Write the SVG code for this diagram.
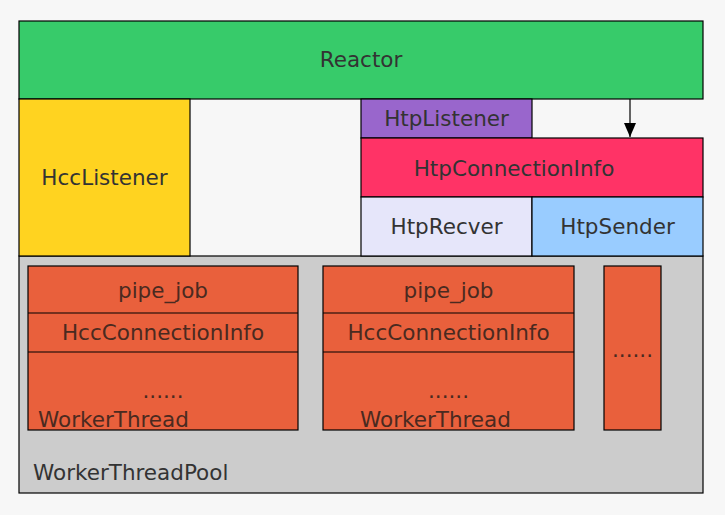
<svg xmlns="http://www.w3.org/2000/svg" width="725" height="515" viewBox="0 0 725 515">
<defs>
<style>
.b{stroke:#000;stroke-width:1.2}
text{font-family:"DejaVu Sans","Liberation Sans",sans-serif;font-size:21.5px;fill:#333}
.m{text-anchor:middle}
.o{fill:#e9603c}
.ot{fill:#4a2a20}
</style>
<marker id="ah" markerWidth="14" markerHeight="12" refX="14" refY="6" orient="auto" markerUnits="userSpaceOnUse" viewBox="0 0 14 12">
<path d="M0,0 L14,6 L0,12 Z" fill="#000"/>
</marker>
</defs>
<rect width="725" height="515" fill="#f7f7f7"/>
<g id="pool">
<rect class="b" x="19" y="256" width="684" height="237" fill="#cccccc"/>
<text x="33" y="480">WorkerThreadPool</text>
</g>
<g id="reactor">
<rect class="b" x="19" y="21" width="684" height="78" fill="#37cb6a"/>
<text class="m" x="361" y="67">Reactor</text>
</g>
<g id="hcclistener">
<rect class="b" x="19" y="99" width="171" height="157" fill="#ffd320"/>
<text class="m" x="104.5" y="185">HccListener</text>
</g>
<g id="htplistener">
<rect class="b" x="361" y="99" width="171" height="39" fill="#9966cc"/>
<text class="m" x="446.5" y="126">HtpListener</text>
</g>
<g id="htpconninfo">
<rect class="b" x="361" y="138" width="342" height="59" fill="#ff3366"/>
<text class="m" x="514" y="176">HtpConnectionInfo</text>
</g>
<g id="htprecver">
<rect class="b" x="361" y="197" width="171" height="59" fill="#e6e6fa"/>
<text class="m" x="446.5" y="234">HtpRecver</text>
</g>
<g id="htpsender">
<rect class="b" x="532" y="197" width="171" height="59" fill="#99ccff"/>
<text class="m" x="617.5" y="234">HtpSender</text>
</g>
<g id="worker1">
<rect class="b o" x="28" y="266" width="270" height="164"/>
<line class="b" x1="28" y1="313" x2="298" y2="313"/>
<line class="b" x1="28" y1="352" x2="298" y2="352"/>
<text class="m ot" x="163" y="298">pipe_job</text>
<text class="m ot" x="163" y="340">HccConnectionInfo</text>
<text class="m ot" x="163" y="398">......</text>
<text class="ot" x="38" y="427">WorkerThread</text>
</g>
<g id="worker2">
<rect class="b o" x="323" y="266" width="251" height="164"/>
<line class="b" x1="323" y1="313" x2="574" y2="313"/>
<line class="b" x1="323" y1="352" x2="574" y2="352"/>
<text class="m ot" x="448.5" y="298">pipe_job</text>
<text class="m ot" x="448.5" y="340">HccConnectionInfo</text>
<text class="m ot" x="448.5" y="398">......</text>
<text class="ot" x="360" y="427">WorkerThread</text>
</g>
<g id="worker3">
<rect class="b o" x="604" y="266" width="57" height="164"/>
<text class="m ot" x="632.5" y="357">......</text>
</g>
<g id="connectors">
<line x1="630" y1="99" x2="630" y2="137" stroke="#000" stroke-width="1.2" marker-end="url(#ah)"/>
</g>
</svg>
